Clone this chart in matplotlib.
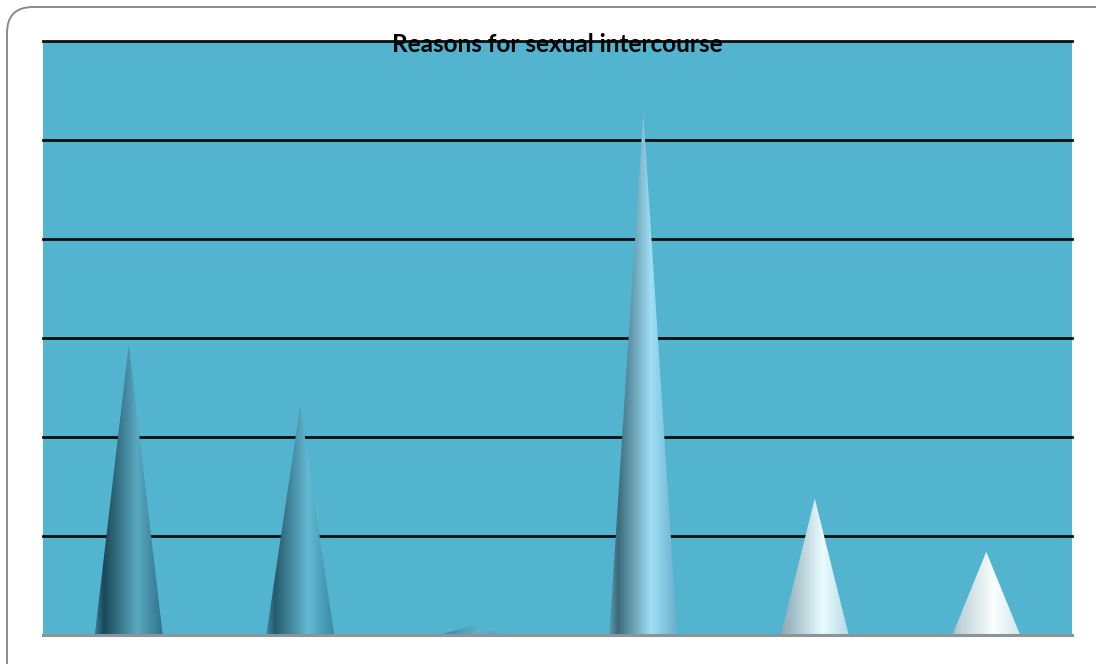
import matplotlib.pyplot as plt
import numpy as np
from matplotlib.colors import LinearSegmentedColormap, to_rgb
from matplotlib.patches import Polygon, FancyBboxPatch

# ------------------------------------------
# data (no labels shown on the chart)
# ------------------------------------------
categories = ["Reason 1", "Reason 2", "Reason 3", "Reason 4", "Reason 5", "Reason 6"]
values = [29.3, 23.2, 0.9, 52.8, 13.8, 8.4]
grid_values = [10, 20, 30, 40, 50, 60]
title = "Reasons for sexual intercourse"

# cone colours: (left edge, dark band, highlight, right edge)
cone_colors = [
    ("#3a7d92", "#1a4858", "#5aa9c1", "#2f7389"),
    ("#4189a0", "#245a6c", "#64b9d3", "#3a8aa3"),
    ("#4c9fb8", "#3f8fa8", "#5fb3cb", "#4b9fb7"),
    ("#5d9cb2", "#3b6a7b", "#9fdff4", "#6aafcb"),
    ("#8fa9b3", "#9cb9c3", "#eafcff", "#b5d9e4"),
    ("#a6bcc4", "#c0d4da", "#fbffff", "#cfe6ec"),
]

BG = "#52b4cf"

fig = plt.figure(figsize=(10.96, 6.64), dpi=100)

# rounded outer frame (pixel coordinates)
frame = FancyBboxPatch((7, -30), 1120, 687, boxstyle="round,pad=0,rounding_size=26",
                       transform=None, facecolor="white", edgecolor="#8a8a8a",
                       linewidth=1.4, zorder=-5)
fig.patches.append(frame)

ax = fig.add_axes([43 / 1096, 1 - 635 / 664, (1072 - 43) / 1096, (635 - 41) / 664])
ax.set_zorder(2)
ax.set_facecolor(BG)

hw = 0.198
grad = np.linspace(0, 1, 256).reshape(1, -1)
for i, (v, cols) in enumerate(zip(values, cone_colors)):
    cmap = LinearSegmentedColormap.from_list(
        f"cone{i}", [(0.0, to_rgb(cols[0])), (0.13, to_rgb(cols[1])),
                     (0.62, to_rgb(cols[2])), (1.0, to_rgb(cols[3]))])
    tri = Polygon([(i - hw, 0), (i + hw, 0), (i, v)], closed=True,
                  facecolor="none", edgecolor="none")
    ax.add_patch(tri)
    im = ax.imshow(grad, cmap=cmap, extent=(i - hw, i + hw, 0, v),
                   aspect="auto", zorder=3, interpolation="bilinear")
    im.set_clip_path(tri)

for g in grid_values:
    ax.axhline(g, color="#0d0d0d", linewidth=2.0, zorder=2, clip_on=False)
ax.axhline(0, color="#8c9498", linewidth=2.2, zorder=4, clip_on=False)

ax.set_xlim(-0.5, len(categories) - 0.5)
ax.set_ylim(0, 60)
ax.set_xticks([])
ax.set_yticks([])
for s in ax.spines.values():
    s.set_visible(False)

ttl = fig.text(557 / 1096, 1 - 52 / 664, title, ha="center", va="baseline",
               fontsize=17.5, fontweight="bold", family=["Lato", "DejaVu Sans"],
               color="black")
ttl.set_zorder(10)

fig.savefig("out.png", dpi=100)
